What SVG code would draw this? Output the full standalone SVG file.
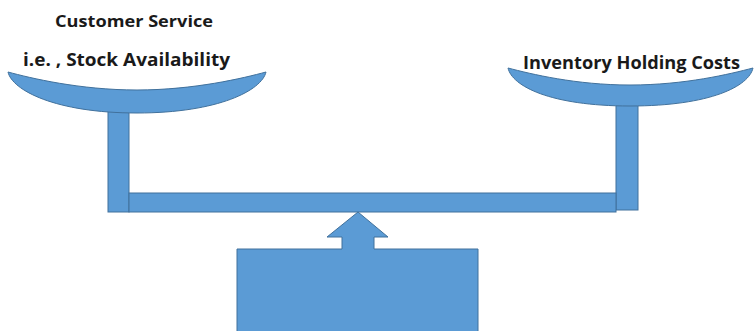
<svg xmlns="http://www.w3.org/2000/svg" width="754" height="331" viewBox="0 0 754 331">
<style>
.shape{fill:#5B9BD5;stroke:#41719C;stroke-width:1}
.lbl{font-family:"Open Sans","Liberation Sans",sans-serif;font-weight:bold;fill:#1a1a1a}
</style>
<rect width="754" height="331" fill="#ffffff"/>
<g id="left-pan">
<rect class="shape" x="108" y="106" width="21" height="106"/>
<path class="shape" d="M8,72 C12,90 55,113 137,113 C219,113 262,90 266,72 C244,78 194,90 137,90 C80,90 30,78 8,72 Z"/>
</g>
<g id="right-pan">
<rect class="shape" x="616" y="100" width="22" height="110"/>
<path class="shape" d="M508,68 C512,86 550,106 630,106 C711,106 749,86 753,68 C730,74 685,85 630,85 C576,85 531,74 508,68 Z"/>
</g>
<g id="beam">
<rect class="shape" x="129" y="193" width="487" height="19"/>
</g>
<g id="fulcrum">
<path class="shape" d="M358,212 L388,237 L374,237 L374,249 L478,249 L478,332 L237,332 L237,249 L342,249 L342,237 L327,237 Z"/>
</g>
<g id="labels">
<text class="lbl" x="55" y="27" font-size="16" textLength="158" lengthAdjust="spacingAndGlyphs">Customer Service</text>
<text class="lbl" x="23" y="66" font-size="17" textLength="207" lengthAdjust="spacingAndGlyphs">i.e. , Stock Availability</text>
<text class="lbl" x="523" y="69" font-size="17" textLength="217" lengthAdjust="spacingAndGlyphs">Inventory Holding Costs</text>
</g>
</svg>
